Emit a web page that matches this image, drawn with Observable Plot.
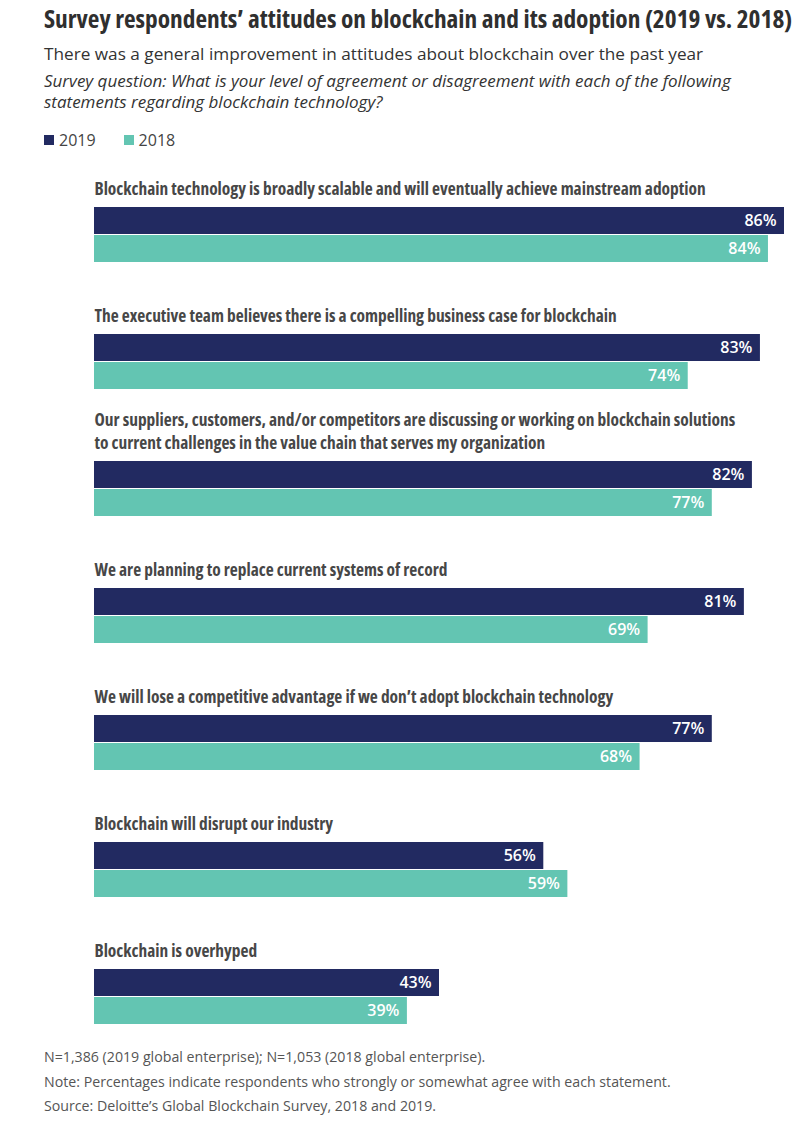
<!DOCTYPE html>
<html>
<head>
<meta charset="utf-8">
<script src="https://cdn.jsdelivr.net/npm/d3@7"></script>
<script src="https://cdn.jsdelivr.net/npm/@observablehq/plot@0.6"></script>
<style>
  body { margin: 0; background: #fff; font-family: "Open Sans", sans-serif; }
  #page { position: relative; width: 800px; height: 1121px; }
  .abs { position: absolute; left: 44px; white-space: nowrap; }
  #title { top: 3px; font-size: 25.35px; line-height: 30px; font-weight: 700; font-stretch: condensed; color: #2f2f2f; }
  #subtitle { top: 42px; font-size: 17.2px; line-height: 24px; color: #333; }
  #question { top: 69.5px; font-size: 17px; line-height: 21px; font-style: italic; color: #333; }
  #legend { top: 130px; font-size: 16px; line-height: 20px; color: #444; display: flex; align-items: center; }
  #legend .sw { display: inline-block; width: 10px; height: 10px; margin-right: 5px; }
  #legend .item { display: flex; align-items: center; margin-right: 28px; }
  #chart { position: absolute; left: 0; top: 160px; }
  #notes { top: 1045px; font-size: 14.2px; line-height: 24.5px; color: #555; }
</style>
</head>
<body>
<div id="page">
  <div id="title" class="abs">Survey respondents’ attitudes on blockchain and its adoption (2019 vs. 2018)</div>
  <div id="subtitle" class="abs">There was a general improvement in attitudes about blockchain over the past year</div>
  <div id="question" class="abs">Survey question: What is your level of agreement or disagreement with each of the following<br>statements regarding blockchain technology?</div>
  <div id="legend" class="abs"></div>
  <div id="chart"></div>
  <div id="notes" class="abs">N=1,386 (2019 global enterprise); N=1,053 (2018 global enterprise).<br>Note: Percentages indicate respondents who strongly or somewhat agree with each statement.<br>Source: Deloitte’s Global Blockchain Survey, 2018 and 2019.</div>
</div>
<script>
// Survey statements (line breaks where the label wraps)
const statements = [
  "Blockchain technology is broadly scalable and will eventually achieve mainstream adoption",
  "The executive team believes there is a compelling business case for blockchain",
  "Our suppliers, customers, and/or competitors are discussing or working on blockchain solutions\nto current challenges in the value chain that serves my organization",
  "We are planning to replace current systems of record",
  "We will lose a competitive advantage if we don’t adopt blockchain technology",
  "Blockchain will disrupt our industry",
  "Blockchain is overhyped"
];
// Share of respondents who agree, percent
const pct2019 = [86, 83, 82, 81, 77, 56, 43];
const pct2018 = [84, 74, 77, 69, 68, 59, 39];
const years = ["2019", "2018"];
const yearColors = ["#222a61", "#63c5b2"];

const rows = statements.flatMap((s, i) => [
  {statement: s, year: "2019", value: pct2019[i]},
  {statement: s, year: "2018", value: pct2018[i]}
]);

// Legend
const legend = document.getElementById("legend");
years.forEach((y, i) => {
  const item = document.createElement("span");
  item.className = "item";
  item.innerHTML = `<span class="sw" style="background:${yearColors[i]}"></span>${y}`;
  legend.appendChild(item);
});

const chart = Plot.plot({
  width: 800,
  height: 880,
  marginLeft: 94,
  marginRight: 16,
  marginTop: 47,
  marginBottom: 15,
  style: {fontFamily: "'Open Sans', sans-serif", background: "white"},
  x: {domain: [0, 86], axis: null},
  y: {domain: years, axis: null, paddingInner: 0.03, paddingOuter: 0},
  fy: {domain: statements, axis: null, paddingInner: 71 / 127, paddingOuter: 0},
  color: {domain: years, range: yearColors},
  marks: [
    Plot.barX(rows, {fy: "statement", y: "year", x: "value", fill: "year"}),
    Plot.text(rows, {
      fy: "statement", y: "year", x: "value",
      text: d => `${d.value}%`,
      textAnchor: "end", dx: -8,
      fill: "white", fontSize: 16, fontWeight: 600
    }),
    Plot.text(statements, {
      fy: d => d,
      text: d => d,
      frameAnchor: "top-left",
      textAnchor: "start",
      lineAnchor: "bottom",
      lineHeight: 1.3,
      dy: -13,
      fill: "#474747", fontSize: 17.4, fontWeight: 700
    })
  ]
});
// Statement labels use the condensed cut of the face
const textGroups = chart.querySelectorAll('g[aria-label="text"]');
textGroups[textGroups.length - 1].style.fontStretch = "condensed";
document.getElementById("chart").appendChild(chart);
</script>
</body>
</html>
